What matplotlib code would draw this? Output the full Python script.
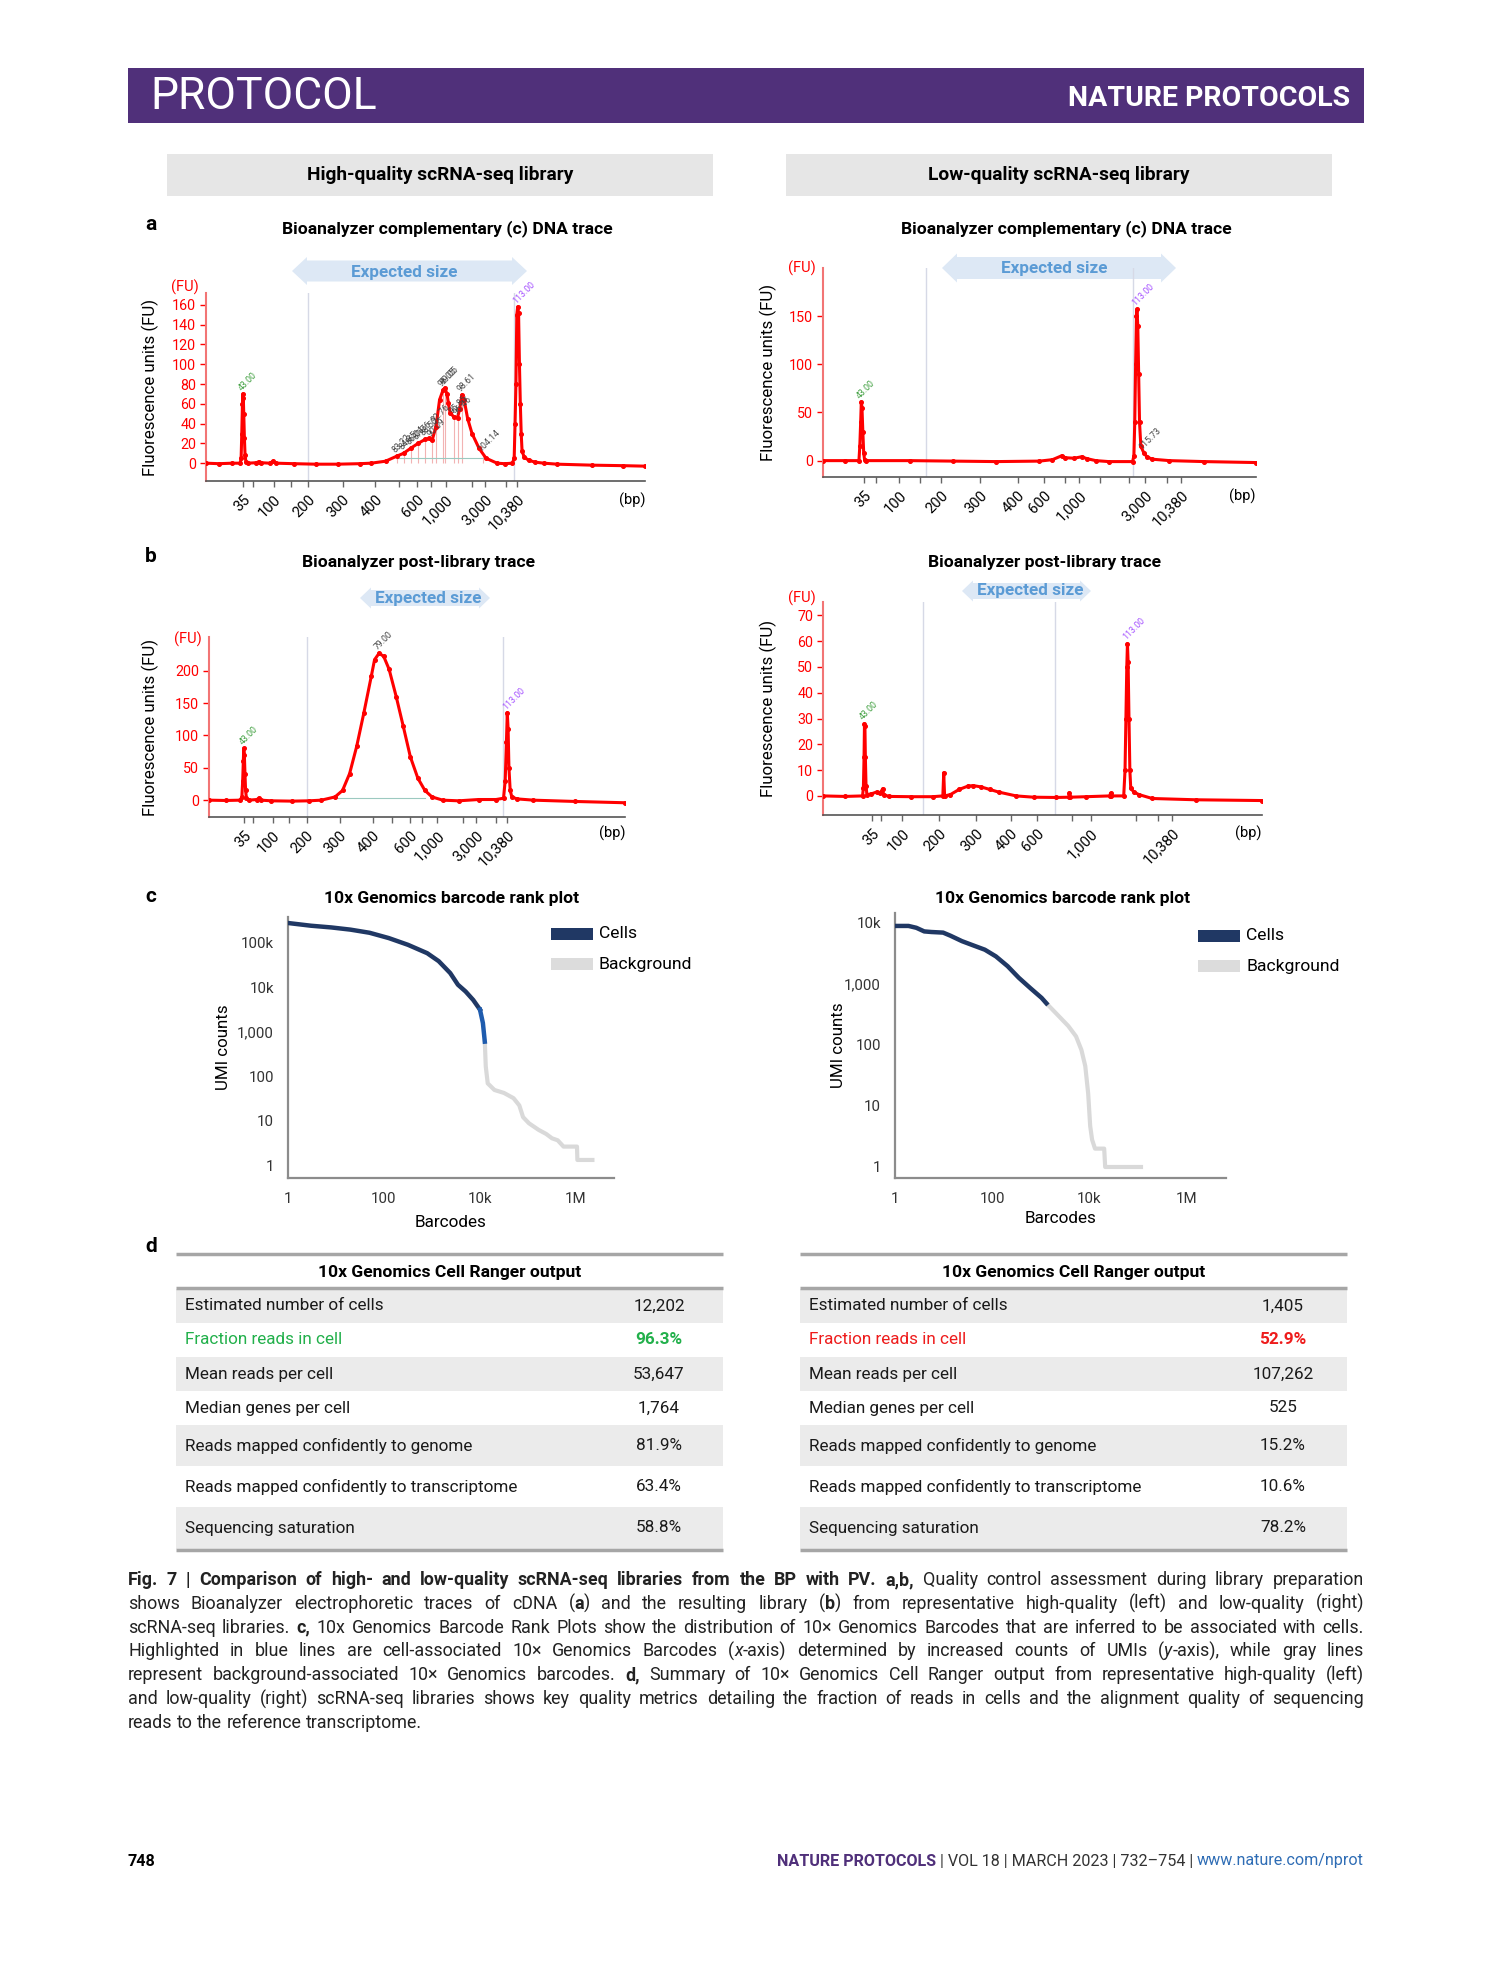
import matplotlib
matplotlib.use('Agg')
import matplotlib.pyplot as plt
from matplotlib.patches import Polygon, Rectangle

plt.rcParams['font.family'] = ['Roboto', 'DejaVu Sans']

# ---------------- data ----------------
bp_lbl = ['35', '100', '200', '300', '400', '600', '1,000', '3,000', '10,380']
bp_lbl_lolib = ['35', '100', '200', '300', '400', '600', '1,000', '10,380']

# a, high-quality cDNA trace (x: relative migration time 0-100, y: FU)
cdna_hi_t = [0, 3, 6, 7.8, 8.0, 8.15, 8.3, 8.4, 8.5, 8.6, 8.75, 8.9, 9.1, 9.5, 11.5, 12.0, 12.5,
             14.5, 15.3, 16, 20, 25, 30, 35, 37.6, 40.9, 43.4, 45.0, 46.6, 48.3, 49.9, 50.7,
             51.5, 52.4, 53.2, 54.0, 54.4, 54.9, 55.2, 55.6, 56.4, 57.3, 57.8, 58.3, 58.8,
             59.6, 60.6, 62.2, 63.8, 66.3, 68, 69.8, 70.2, 70.4, 70.6, 70.8, 71.0, 71.2,
             71.4, 71.6, 71.8, 72.0, 72.5, 73.5, 75, 77, 80, 88, 95, 100]
cdna_hi_fu = [0, -0.5, 0, 0, 5, 30, 60, 70, 66, 50, 25, 8, 1, 0, 0.5, 1.5, 0.5,
              0, 2, 0, -0.5, -1, -1, -0.5, 0, 2, 7, 10, 15, 20, 24, 25,
              23, 37, 64, 74, 76, 70, 61, 51, 47, 46, 55, 69, 64,
              45, 30, 15, 5, 0, -0.5, 0, 5, 40, 80, 150, 158, 152,
              100, 60, 30, 12, 6, 3, 1, 0, -1, -2, -2.5, -3]
cdna_hi_ticks = [8.4, 15.4, 23.3, 31.1, 38.6, 48.1, 54.6, 63.6, 70.8]
cdna_hi_minor = [10.6, 19.3, 43.9, 51.2, 60.6, 68.3]
cdna_hi_gates = [23.3, 70.1]
cdna_hi_pk_t = [43.4, 45.0, 46.6, 48.3, 49.9, 51.5, 52.4, 54.0, 54.4, 56.4, 57.3, 58.3, 63.0]
cdna_hi_pk_fu = [7, 10, 15, 20, 24, 23, 37, 74, 76, 47, 46, 69, 8]
cdna_hi_pk_lbl = ['83.22', '84.35', '86.24', '87.76', '88.50', '90.09', '92.76',
                  '96.05', '99.05', '95.85', '96.46', '98.61', '104.14']

# a, low-quality cDNA trace
cdna_lo_t = [0, 5, 8.3, 8.5, 8.7, 8.85, 9.0, 9.2, 9.4, 9.6, 10, 20, 30, 40, 50, 53, 55.1, 56,
             58, 59.7, 61, 63, 66, 71.5, 71.8, 72.0, 72.2, 72.4, 72.5, 72.7, 72.9, 73.1,
             73.4, 74.1, 74.8, 76, 80, 88, 100]
cdna_lo_fu = [0, 0, 0, 15, 40, 61, 55, 30, 8, 1, 0, 0, -0.5, -1, -0.5, 1, 5, 3,
              2.5, 4, 2, 0, -1, -1, 5, 40, 100, 150, 157, 140, 90, 40,
              15, 8, 4, 1.5, 0, -1, -2]
cdna_lo_ticks = [9.5, 17.65, 27.2, 36.3, 45.0, 50.95, 59.2, 74.4, 82.7]
cdna_lo_minor = [12.3, 22.5, 55.8, 63.9, 70.6, 79.5]
cdna_lo_gates = [23.9, 71.7]

# b, high-quality library trace
lib_hi_t = [0, 4, 7.5, 7.9, 8.1, 8.25, 8.35, 8.5, 8.65, 8.8, 9.0, 9.5, 11.5, 12.0, 12.5, 15,
            20, 24, 27, 30.3, 32.1, 33.8, 35.5, 37.2, 39.0, 39.8, 40.9, 42.0, 43.3, 45.0,
            46.7, 48.4, 50.2, 51.9, 53.6, 56.2, 60, 64.8, 69, 70.8, 71.2, 71.5, 71.7, 71.9,
            72.1, 72.4, 72.8, 74, 78, 88, 100]
lib_hi_fu = [0, -0.5, 0, 5, 30, 60, 80, 70, 40, 15, 3, 0, 1, 3, 0, -1,
             -1.5, -1, 0, 5, 15, 41, 83, 134, 191, 217, 227, 222, 202, 160,
             114, 67, 34, 15, 5, 0, -1, 1, 1, 3, 30, 90, 135, 110,
             50, 15, 5, 2, 0, -2, -4]
lib_hi_ticks = [8.4, 15.3, 23.45, 31.4, 39.4, 48.3, 54.9, 64.2, 71.6]
lib_hi_minor = [10.5, 19.3, 44.1, 51.3, 61.1, 69.1]
lib_hi_gates = [23.45, 70.7]

# b, low-quality library trace
lib_lo_t = [0, 5, 9.0, 9.2, 9.35, 9.45, 9.55, 9.65, 9.8, 10, 11, 12.2, 13.0, 13.6, 13.8, 15,
            20, 25, 27.3, 27.5, 27.7, 29, 31, 33, 34.2, 36, 38, 40, 44, 48, 53, 56, 56.1,
            56.3, 60, 65.3, 65.5, 65.7, 68.5, 68.8, 69.0, 69.2, 69.35, 69.5, 69.7, 69.9,
            70.1, 70.8, 72, 75, 85, 100]
lib_lo_fu = [0, -0.2, 0, 3, 15, 28, 27, 15, 4, 0.5, 0.8, 1.5, 1, 2.8, 0.5, -0.2,
             -0.3, -0.3, 0, 9, 0, 0.5, 2.5, 3.8, 4, 3.5, 2.5, 1.5, 0, -0.5, -0.6, -0.5, 1.2,
             -0.5, -0.3, 0, 1, 0, 0, 10, 30, 50, 59, 52, 30, 10,
             3, 1.5, 0.5, -1, -1.5, -1.8]
lib_lo_ticks = [11.2, 18.06, 26.47, 34.9, 42.8, 48.77, 60.95, 79.57]
lib_lo_minor = [13.2, 56.7, 71.4, 76.3]
lib_lo_gates = [22.88, 52.86]

# c, barcode rank plots (rank, UMI counts)
rank_hi_cells_x = [1, 3, 8, 20, 50, 126, 316, 794, 1380, 2400, 3470, 5010, 7240, 10000]
rank_hi_cells_y = [282000, 245000, 224000, 200000, 170000, 129000, 91000, 59000, 39000,
                   21000, 11500, 8100, 5200, 3160]
rank_hi_edge_x = [10000, 11500, 12600]
rank_hi_edge_y = [3160, 1580, 600]
rank_hi_bg_x = [12600, 13200, 14500, 20000, 31600, 50000, 66000, 79000, 105000, 166000,
                240000, 316000, 417000, 550000, 1050000, 1070000, 2200000]
rank_hi_bg_y = [600, 166, 69, 49, 42, 32, 22, 12, 8.7, 6.2, 5.0, 4.0, 3.6, 2.6, 2.6, 1.3, 1.3]

rank_lo_cells_x = [1, 1.9, 2.75, 4, 5.6, 9.8, 13.8, 24, 41, 71, 120, 209, 355, 617, 1047, 1318]
rank_lo_cells_y = [8900, 8900, 8300, 7240, 7080, 6920, 6170, 5010, 4270, 3630, 2820, 1950,
                   1260, 850, 590, 480]
rank_lo_bg_x = [1318, 2190, 3720, 5370, 6920, 8320, 9550, 10500, 11500, 13200, 20400, 21400,
                117000]
rank_lo_bg_y = [480, 316, 204, 138, 83, 45, 16, 4.7, 2.8, 2.0, 2.0, 1.0, 1.0]

# d, Cell Ranger output
metrics = ['Estimated number of cells', 'Fraction reads in cell', 'Mean reads per cell',
           'Median genes per cell', 'Reads mapped confidently to genome',
           'Reads mapped confidently to transcriptome', 'Sequencing saturation']
vals_hi = ['12,202', '96.3%', '53,647', '1,764', '81.9%', '63.4%', '58.8%']
vals_lo = ['1,405', '52.9%', '107,262', '525', '15.2%', '10.6%', '78.2%']

caption = [
    "*Fig. 7 | Comparison of high- and low-quality scRNA-seq libraries from the BP with PV. a,b,* Quality control assessment during library preparation",
    "shows Bioanalyzer electrophoretic traces of cDNA (*a*) and the resulting library (*b*) from representative high-quality (left) and low-quality (right)",
    "scRNA-seq libraries. *c,* 10x Genomics Barcode Rank Plots show the distribution of 10\u00d7 Genomics Barcodes that are inferred to be associated with cells.",
    "Highlighted in blue lines are cell-associated 10\u00d7 Genomics Barcodes (_x_-axis) determined by increased counts of UMIs (_y_-axis), while gray lines",
    "represent background-associated 10\u00d7 Genomics barcodes. *d,* Summary of 10\u00d7 Genomics Cell Ranger output from representative high-quality (left)",
    "and low-quality (right) scRNA-seq libraries shows key quality metrics detailing the fraction of reads in cells and the alignment quality of sequencing",
    "reads to the reference transcriptome.",
]

# ---------------- figure ----------------
W, H = 1489, 1978
fig = plt.figure(figsize=(W / 100, H / 100), dpi=100)
page = fig.add_axes([0, 0, 1, 1])
page.set_xlim(0, W); page.set_ylim(H, 0); page.axis('off')
R = fig.canvas.get_renderer()

PURPLE = '#50307a'
RED = '#ff0000'
TFS = 12.6   # panel title size


def px_ax(x0, y0, x1, y1):
    return fig.add_axes([x0 / W, 1 - y1 / H, (x1 - x0) / W, (y1 - y0) / H])


def exp_arrow(x0, x1, yc, hb, ov, d, tx, ty):
    pts = [(x0, yc), (x0 + d, yc - hb / 2 - ov), (x0 + d, yc - hb / 2), (x1 - d, yc - hb / 2),
           (x1 - d, yc - hb / 2 - ov), (x1, yc), (x1 - d, yc + hb / 2 + ov), (x1 - d, yc + hb / 2),
           (x0 + d, yc + hb / 2), (x0 + d, yc + hb / 2 + ov)]
    page.add_patch(Polygon(pts, closed=True, fc='#dde8f5', ec='none'))
    page.text(tx, ty, 'Expected size', ha='center', va='center', fontsize=12.3,
              fontweight='bold', color='#5b9bd5')


def trace(box, t, fu, ylim, yticks, ticks, labels, minor, gates, fu_dy, lbl_x, bp_dy,
          marks):
    ax = px_ax(*box)
    ax.patch.set_alpha(0)
    for g in gates:
        ax.axvline(g, color='#d6d9e6', lw=1, zorder=1)
    ax.plot(t, fu, color=RED, lw=2.2, marker='o', ms=2.6, zorder=3)
    ax.set_xlim(0, 100)
    ax.set_ylim(*ylim)
    ax.set_yticks(yticks)
    ax.set_xticks(ticks)
    ax.set_xticklabels(labels, rotation=45, ha='right', va='top', rotation_mode='anchor')
    ax.set_xticks(minor, minor=True)
    ax.tick_params(axis='x', which='both', length=4, width=1, color='#666', labelsize=10.6,
                   pad=4)
    ax.tick_params(axis='y', length=4, width=1, colors=RED, labelsize=10.3, pad=3)
    for s in ('top', 'right'):
        ax.spines[s].set_visible(False)
    ax.spines['left'].set_color('#f27575')
    ax.spines['left'].set_linewidth(1.5)
    ax.spines['bottom'].set_color('#555')
    ax.spines['bottom'].set_linewidth(1.2)
    ax.set_ylabel('Fluorescence units (FU)', fontsize=12.2)
    ax.yaxis.set_label_coords(lbl_x, 0.5)
    ax.annotate('(FU)', xy=(0, 1), xycoords='axes fraction', xytext=(-7, fu_dy),
                textcoords='offset pixels', ha='right', va='center', color=RED, fontsize=10.5)
    ax.annotate('(bp)', xy=(1, 0), xycoords='axes fraction', xytext=(0, -bp_dy),
                textcoords='offset pixels', ha='right', va='center', fontsize=10.5)
    for mt, mf, ml, mc in marks:
        ax.text(mt, mf + ylim[1] * 0.01, ml, rotation=45, rotation_mode='anchor', ha='left',
                va='bottom', fontsize=6.3, color=mc)
    return ax


GREEN_M = '#3f9f3f'
PURP_M = '#a450ff'
GRAY_M = '#444444'

# header banner
page.add_patch(Rectangle((128, 68), 1236, 55, fc=PURPLE, ec='none'))
page.text(150, 97, 'PROTOCOL', color='white', fontsize=32, fontweight='normal',
          va='center', ha='left')
page.text(1350, 98, 'NATURE PROTOCOLS', color='white', fontsize=20.5, fontweight='bold',
          va='center', ha='right')

# column header boxes
page.add_patch(Rectangle((167, 154), 546, 42, fc='#e6e6e6', ec='none'))
page.add_patch(Rectangle((786, 154), 546, 42, fc='#e6e6e6', ec='none'))
page.text(440, 175, 'High-quality scRNA-seq library', ha='center', va='center', fontsize=13.8,
          fontweight='bold')
page.text(1059, 175, 'Low-quality scRNA-seq library', ha='center', va='center', fontsize=13.8,
          fontweight='bold')

# panel letters and titles
for lt, ly in (('a', 225), ('b', 557), ('c', 897), ('d', 1246)):
    page.text(145, ly, lt, fontsize=15, fontweight='bold', va='center', ha='left')
page.text(447, 229, 'Bioanalyzer complementary (c) DNA trace', ha='center', va='center',
          fontsize=TFS, fontweight='bold')
page.text(1066, 229, 'Bioanalyzer complementary (c) DNA trace', ha='center', va='center',
          fontsize=TFS, fontweight='bold')
page.text(418, 562, 'Bioanalyzer post-library trace', ha='center', va='center', fontsize=TFS,
          fontweight='bold')
page.text(1045, 562, 'Bioanalyzer post-library trace', ha='center', va='center', fontsize=TFS,
          fontweight='bold')
page.text(452, 899, '10x Genomics barcode rank plot', ha='center', va='center', fontsize=TFS,
          fontweight='bold')
page.text(1063, 899, '10x Genomics barcode rank plot', ha='center', va='center', fontsize=TFS,
          fontweight='bold')

# expected size arrows
exp_arrow(292, 527, 271, 21, 3.5, 15, 404, 272)
exp_arrow(942, 1176, 268, 22, 3.5, 15, 1054, 269)
exp_arrow(360, 490, 598, 16, 2.5, 11, 428, 599)
exp_arrow(962, 1091, 591, 16, 2.5, 11, 1030, 591)

# ---- a ----
ax = trace((206, 293, 645, 481), cdna_hi_t, cdna_hi_fu, (-18, 172), range(0, 161, 20),
           cdna_hi_ticks, bp_lbl, cdna_hi_minor, cdna_hi_gates, 6, -0.107, 19,
           [(8.4, 70, '43.00', GREEN_M), (71.0, 158, '113.00', PURP_M)] +
           [(a, b, c, GRAY_M) for a, b, c in zip(cdna_hi_pk_t, cdna_hi_pk_fu, cdna_hi_pk_lbl)])
ax.vlines(cdna_hi_pk_t, 0, cdna_hi_pk_fu, color='#f2b3b3', lw=0.8, zorder=2)
ax.plot([cdna_hi_pk_t[0], cdna_hi_pk_t[-1]], [5, 5], color='#9cc9c0', lw=0.8, zorder=2)

trace((823, 268, 1256, 477), cdna_lo_t, cdna_lo_fu, (-17, 200), [0, 50, 100, 150],
      cdna_lo_ticks, bp_lbl, cdna_lo_minor, cdna_lo_gates, 0, -0.106, 19,
      [(8.85, 61, '43.00', GREEN_M), (72.5, 157, '113.00', PURP_M),
       (74.1, 8, '115.73', GRAY_M)])

# ---- b ----
ax = trace((209, 637, 625, 817), lib_hi_t, lib_hi_fu, (-26, 252), range(0, 201, 50),
           lib_hi_ticks, bp_lbl, lib_hi_minor, lib_hi_gates, -2, -0.12, 16,
           [(8.35, 80, '43.00', GREEN_M), (71.7, 135, '113.00', PURP_M),
            (40.9, 227, '79.00', GRAY_M)])
ax.plot([30.3, 51.9], [4, 4], color='#9cc9c0', lw=0.8, zorder=2)

trace((823, 602, 1262, 815), lib_lo_t, lib_lo_fu, (-7.4, 75.2), range(0, 71, 10),
      lib_lo_ticks, bp_lbl_lolib, lib_lo_minor, lib_lo_gates, 4, -0.105, 18,
      [(9.45, 28, '43.00', GREEN_M), (69.35, 59, '113.00', PURP_M)])


# ---- c ----
def rank(box, cx, cy, ex, ey, bx, by, xmax, ylim, yt, ytl, ylab_x, xlab_y):
    ax = px_ax(*box)
    ax.patch.set_alpha(0)
    ax.set_xscale('log'); ax.set_yscale('log')
    ax.plot(bx, by, color='#d9d9d9', lw=3, zorder=2)
    ax.plot(cx, cy, color='#203864', lw=3.2, zorder=3)
    if ex:
        ax.plot(ex, ey, color='#1f5cae', lw=3.2, zorder=3)
    ax.set_xlim(1, xmax)
    ax.set_ylim(*ylim)
    ax.set_xticks([1, 100, 1e4, 1e6], ['1', '100', '10k', '1M'])
    ax.set_yticks(yt, ytl)
    ax.minorticks_off()
    ax.tick_params(length=0, labelsize=10.8, colors='#333333', pad=10)
    for s in ('top', 'right'):
        ax.spines[s].set_visible(False)
    for s in ('left', 'bottom'):
        ax.spines[s].set_color('#8c8c8c')
        ax.spines[s].set_linewidth(1.6)
    ax.set_ylabel('UMI counts', fontsize=12.2)
    ax.yaxis.set_label_coords(ylab_x, 0.5)
    ax.set_xlabel('Barcodes', fontsize=12.3)
    ax.xaxis.set_label_coords(0.5, xlab_y)
    return ax


rank((288, 917, 614, 1178), rank_hi_cells_x, rank_hi_cells_y, rank_hi_edge_x, rank_hi_edge_y,
     rank_hi_bg_x, rank_hi_bg_y, 6.2e6, (0.51, 385000), [1, 10, 100, 1e3, 1e4, 1e5],
     ['1', '10', '100', '1,000', '10k', '100k'], -0.175, -0.142)
rank((895, 913, 1226, 1178), rank_lo_cells_x, rank_lo_cells_y, None, None,
     rank_lo_bg_x, rank_lo_bg_y, 6.6e6, (0.66, 14500), [1, 10, 100, 1e3, 1e4],
     ['1', '10', '100', '1,000', '10k'], -0.148, -0.125)

for lx, ly in ((551, 934), (1198, 936)):
    page.add_patch(Rectangle((lx, ly - 6), 42, 12, fc='#203864', ec='none'))
    page.add_patch(Rectangle((lx, ly + 24), 42, 12, fc='#dcdcdc', ec='none'))
    page.text(lx + 48, ly, 'Cells', va='center', fontsize=12.6)
    page.text(lx + 48, ly + 30, 'Background', va='center', fontsize=12.6)

# ---- d: tables ----
row_edges = [1289, 1323, 1357, 1391, 1425, 1466, 1507, 1549]


def table(x0, x1, vals, vx, hl_color):
    page.plot([x0, x1], [1254, 1254], color='#a6a6a6', lw=2.5, solid_capstyle='butt')
    page.plot([x0, x1], [1288, 1288], color='#a6a6a6', lw=2.5, solid_capstyle='butt')
    page.text((x0 + x1) / 2, 1272, '10x Genomics Cell Ranger output', ha='center',
              va='center', fontsize=12.6, fontweight='bold')
    for i, (m, v) in enumerate(zip(metrics, vals)):
        y0, y1 = row_edges[i], row_edges[i + 1]
        if i % 2 == 0:
            page.add_patch(Rectangle((x0, y0), x1 - x0, y1 - y0, fc='#ebebeb', ec='none'))
        col = hl_color if i == 1 else '#1a1a1a'
        page.text(x0 + 9, (y0 + y1) / 2, m, va='center', fontsize=12.3, color=col)
        page.text(vx, (y0 + y1) / 2, v, va='center', ha='center', fontsize=12.3, color=col,
                  fontweight='bold' if i == 1 else 'normal')
    page.plot([x0, x1], [1550, 1550], color='#a6a6a6', lw=2.5, solid_capstyle='butt')


table(176, 723, vals_hi, 659, '#22b04b')
table(800, 1347, vals_lo, 1283, '#ee1c1c')


# ---- caption (justified) ----
def measure(s, **kw):
    t = page.text(0, 0, s, **kw)
    w = t.get_window_extent(R).width
    t.remove()
    return w


def parse(line, state):
    words = []
    for raw in line.split(' '):
        segs, cur = [], ''
        for ch in raw:
            if ch in '*_':
                if cur:
                    segs.append((cur, state['b'], state['i']))
                    cur = ''
                if ch == '*':
                    state['b'] = not state['b']
                else:
                    state['i'] = not state['i']
            else:
                cur += ch
        if cur:
            segs.append((cur, state['b'], state['i']))
        words.append(segs)
    return words


CFS = 12.9
cx0, cx1 = 128, 1364
space_w = measure('a a', fontsize=CFS) - measure('aa', fontsize=CFS)
state = {'b': False, 'i': False}
for li, line in enumerate(caption):
    y = 1580 + li * 23.8
    words = parse(line, state)
    widths = []
    for segs in words:
        ws = [measure(s, fontsize=CFS, fontweight='bold' if b else 'normal',
                      fontstyle='italic' if it else 'normal') for s, b, it in segs]
        widths.append(ws)
    total = sum(sum(w) for w in widths)
    last = li == len(caption) - 1
    gap = space_w if last else (cx1 - cx0 - total) / (len(words) - 1)
    x = cx0
    for segs, ws in zip(words, widths):
        for (s, b, it), w in zip(segs, ws):
            page.text(x, y, s, fontsize=CFS, va='center', ha='left', color='#222222',
                      fontweight='bold' if b else 'normal',
                      fontstyle='italic' if it else 'normal')
            x += w
        x += gap

# ---- footer ----
page.text(128, 1861, '748', fontsize=11.6, fontweight='bold', va='center')
foot = [('www.nature.com/nprot', 'normal', '#2f6db5'),
        (' | VOL 18 | MARCH 2023 | 732\u2013754 | ', 'normal', '#333333'),
        ('NATURE PROTOCOLS', 'bold', PURPLE)]
x = 1364
for s, wgt, col in foot:
    page.text(x, 1861, s, fontsize=11.6, fontweight=wgt, color=col, va='center', ha='right')
    x -= measure(s, fontsize=11.6, fontweight=wgt)

fig.savefig('out.png', dpi=100)
